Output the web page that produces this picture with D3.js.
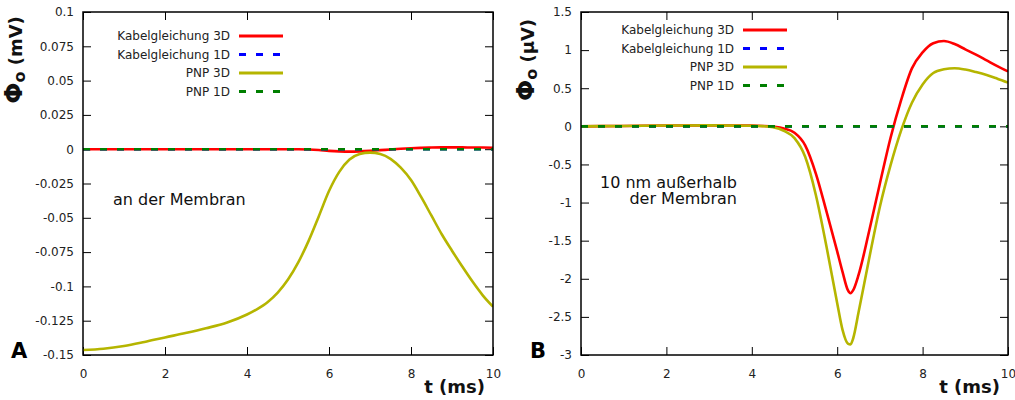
<!DOCTYPE html>
<html>
<head>
<meta charset="utf-8">
<script src="https://cdnjs.cloudflare.com/ajax/libs/d3/7.8.5/d3.min.js"></script>
<style>
  body { margin: 0; background: #fff; }
  svg { display: block; font-family: "DejaVu Sans", Verdana, sans-serif; }
</style>
</head>
<body>
<div id="chart"></div>
<script>
const WIDTH = 1015;
const HEIGHT = 400;

const seriesNames = ["Kabelgleichung 3D", "Kabelgleichung 1D", "PNP 3D", "PNP 1D"];
const seriesColors = ["#ff0000", "#0000ff", "#b5b500", "#007f00"];
const seriesDashed = [false, true, false, true];

const xTicks = [0, 2, 4, 6, 8, 10];

// panel A: an der Membran (mV)
const yTicksA = [-0.15, -0.125, -0.1, -0.075, -0.05, -0.025, 0, 0.025, 0.05, 0.075, 0.1];
const tA = [0, 0.5, 1, 1.5, 2, 2.5, 3, 3.5, 4, 4.25, 4.5, 4.75, 5, 5.25, 5.5, 5.75, 6, 6.25, 6.5, 6.75, 7, 7.25, 7.5, 7.75, 8, 8.25, 8.5, 8.75, 9, 9.25, 9.5, 9.75, 10];
const kabel3dA = [0, 0, 0, 0, 0, 0, 0, 0, 0, 0, 0, 0, 0, 0, -0.0002, -0.0006, -0.0012, -0.0016, -0.0018, -0.0016, -0.0012, -0.0007, -0.0002, 0.0003, 0.0007, 0.001, 0.0012, 0.0013, 0.0013, 0.0013, 0.0012, 0.0012, 0.0011];
const kabel1dA = tA.map(() => 0);
const pnp3dA = [-0.1464, -0.1455, -0.1435, -0.1405, -0.1372, -0.134, -0.1305, -0.1265, -0.1205, -0.1165, -0.1115, -0.1045, -0.095, -0.0825, -0.067, -0.049, -0.0305, -0.0165, -0.0075, -0.0035, -0.0025, -0.0035, -0.007, -0.0135, -0.0225, -0.035, -0.0485, -0.062, -0.074, -0.0855, -0.0965, -0.1065, -0.1148];
const pnp1dA = tA.map(() => 0);

// panel B: 10 nm außerhalb (µV)
const yTicksB = [-3, -2.5, -2, -1.5, -1, -0.5, 0, 0.5, 1, 1.5];
const tB = [0, 1, 2, 3, 4, 4.25, 4.5, 4.75, 5, 5.25, 5.5, 5.75, 6, 6.125, 6.25, 6.3125, 6.375, 6.5, 6.75, 7, 7.25, 7.5, 7.75, 8, 8.25, 8.5, 8.75, 9, 9.25, 9.5, 9.75, 10];
const kabel3dB = [0, 0.005, 0.01, 0.012, 0.01, 0.005, -0.005, -0.028, -0.085, -0.25, -0.62, -1.12, -1.64, -1.91, -2.15, -2.19, -2.15, -1.95, -1.37, -0.75, -0.15, 0.35, 0.76, 0.97, 1.09, 1.12, 1.08, 1.01, 0.94, 0.865, 0.79, 0.72];
const kabel1dB = tB.map(() => 0);
const pnp3dB = [0, 0.005, 0.01, 0.012, 0.008, 0.003, -0.012, -0.058, -0.155, -0.4, -0.9, -1.58, -2.32, -2.67, -2.85, -2.86, -2.78, -2.44, -1.73, -1.055, -0.51, -0.05, 0.31, 0.55, 0.7, 0.748, 0.762, 0.745, 0.712, 0.673, 0.625, 0.574];
const pnp1dB = tB.map(() => 0);

const panels = [
  {
    letter: "A", unit: "(mV)",
    left: 83, right: 493, top: 12, bottom: 355,
    yDomain: [-0.15, 0.1], yTicks: yTicksA,
    t: tA, series: [kabel3dA, kabel1dA, pnp3dA, pnp1dA],
    legendX: 230, legendY: 36,
    note: ["an der Membran"], noteX: 113, noteY: 205, noteAnchor: "start",
    letterX: 11, labelX: 22
  },
  {
    letter: "B", unit: "(µV)",
    left: 581, right: 1008, top: 12, bottom: 355,
    yDomain: [-3, 1.5], yTicks: yTicksB,
    t: tB, series: [kabel3dB, kabel1dB, pnp3dB, pnp1dB],
    legendX: 734, legendY: 30,
    note: ["10 nm außerhalb", "der Membran"], noteX: 737, noteY: 188, noteAnchor: "end",
    letterX: 530, labelX: 534
  }
];

function setup(){
  let svg = d3.select("#chart")
    .append("svg")
    .attr("width", WIDTH)
    .attr("height", HEIGHT);

  svg.append("rect")
    .attr("width", WIDTH)
    .attr("height", HEIGHT)
    .attr("fill", "#fff");

  panels.forEach(p => drawPanel(svg, p));
}

function drawPanel(svg, p){
  let x = d3.scaleLinear().domain([0, 10]).range([p.left, p.right]);
  let y = d3.scaleLinear().domain(p.yDomain).range([p.bottom, p.top]);
  let g = svg.append("g");

  // axes with inner ticks, mirrored on top and right
  let fmt = d => String(d);
  g.append("g")
    .attr("transform", `translate(0,${p.bottom})`)
    .call(d3.axisBottom(x).tickValues(xTicks).tickFormat(fmt).tickSize(-8).tickPadding(14));
  g.append("g")
    .attr("transform", `translate(0,${p.top})`)
    .call(d3.axisTop(x).tickValues(xTicks).tickFormat("").tickSize(-8));
  g.append("g")
    .attr("transform", `translate(${p.left},0)`)
    .call(d3.axisLeft(y).tickValues(p.yTicks).tickFormat(fmt).tickSize(-8).tickPadding(9));
  g.append("g")
    .attr("transform", `translate(${p.right},0)`)
    .call(d3.axisRight(y).tickValues(p.yTicks).tickFormat("").tickSize(-8));

  g.selectAll(".domain").remove();
  g.selectAll(".tick line").attr("stroke", "#000").attr("stroke-width", 1);
  g.selectAll(".tick text")
    .attr("fill", "#222")
    .style("font-size", "12px")
    .style("font-family", "DejaVu Sans");

  let line = d3.line()
    .x(d => x(d[0]))
    .y(d => y(d[1]))
    .curve(d3.curveMonotoneX);

  let clipId = "clip" + p.letter;
  g.append("clipPath").attr("id", clipId)
    .append("rect")
    .attr("x", p.left).attr("y", p.top)
    .attr("width", p.right - p.left).attr("height", p.bottom - p.top);

  let plot = g.append("g").attr("clip-path", `url(#${clipId})`);
  p.series.forEach((vals, i) => {
    plot.append("path")
      .datum(p.t.map((t, j) => [t, vals[j]]))
      .attr("d", line)
      .attr("fill", "none")
      .attr("stroke", seriesColors[i])
      .attr("stroke-width", 2.6)
      .attr("stroke-linejoin", "round")
      .attr("stroke-dasharray", seriesDashed[i] ? "7,10" : null);
  });

  // frame
  g.append("rect")
    .attr("x", p.left).attr("y", p.top)
    .attr("width", p.right - p.left).attr("height", p.bottom - p.top)
    .attr("fill", "none")
    .attr("stroke", "#000")
    .attr("stroke-width", 1.5);

  // legend
  let legend = g.append("g");
  seriesNames.forEach((name, i) => {
    let ly = p.legendY + i * 18.5;
    legend.append("text")
      .attr("x", p.legendX).attr("y", ly)
      .attr("dy", "0.35em")
      .attr("text-anchor", "end")
      .style("font-size", "12px")
      .attr("fill", "#222")
      .text(name);
    legend.append("line")
      .attr("x1", p.legendX + 9).attr("x2", p.legendX + 53)
      .attr("y1", ly).attr("y2", ly)
      .attr("stroke", seriesColors[i])
      .attr("stroke-width", 3)
      .attr("stroke-dasharray", seriesDashed[i] ? "7,10" : null);
  });

  // annotation
  let note = g.append("text")
    .attr("text-anchor", p.noteAnchor)
    .style("font-size", "16px")
    .attr("fill", "#111");
  p.note.forEach((s, i) => {
    note.append("tspan")
      .attr("x", p.noteX)
      .attr("y", p.noteY + i * 16)
      .text(s);
  });

  // y axis title
  let ylab = g.append("text")
    .attr("transform", `translate(${p.labelX},60) rotate(-90)`)
    .attr("text-anchor", "middle")
    .style("font-weight", "bold")
    .attr("fill", "#111");
  ylab.append("tspan").style("font-size", "25px").text("Φ");
  ylab.append("tspan").style("font-size", "16px").attr("dy", 3).text("o");
  ylab.append("tspan").style("font-size", "18px").attr("dy", -3).text(" " + p.unit);

  // x axis title
  g.append("text")
    .attr("x", p.right - 8).attr("y", 393)
    .attr("text-anchor", "end")
    .style("font-size", "18px")
    .style("font-weight", "bold")
    .attr("fill", "#111")
    .text("t (ms)");

  // panel letter
  g.append("text")
    .attr("x", p.letterX).attr("y", 358)
    .style("font-size", "21px")
    .style("font-weight", "bold")
    .attr("fill", "#000")
    .text(p.letter);
}

window.addEventListener("load", setup);
</script>
</body>
</html>
